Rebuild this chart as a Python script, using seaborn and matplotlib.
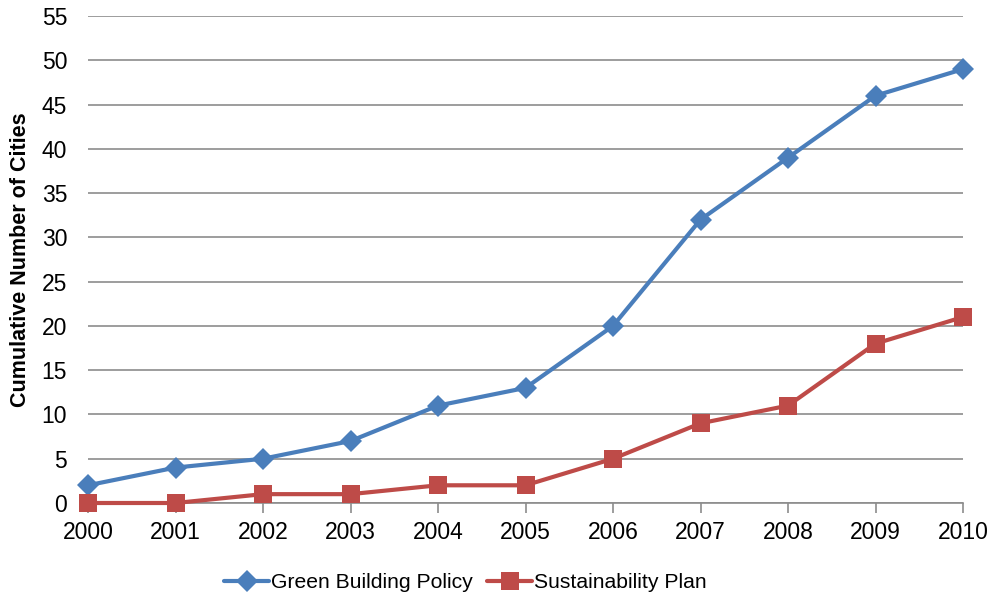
import matplotlib
matplotlib.use("Agg")
import matplotlib.pyplot as plt
import seaborn as sns
import pandas as pd

years = [2000, 2001, 2002, 2003, 2004, 2005, 2006, 2007, 2008, 2009, 2010]
green_building = [2, 4, 5, 7, 11, 13, 20, 32, 39, 46, 49]
sustainability = [0, 0, 1, 1, 2, 2, 5, 9, 11, 18, 21]
series_names = ["Green Building Policy", "Sustainability Plan"]
y_ticks = list(range(0, 56, 5))

df = pd.DataFrame({
    "Year": years * 2,
    "Cities": green_building + sustainability,
    "Series": [series_names[0]] * len(years) + [series_names[1]] * len(years),
})

sns.set_theme(style="white")
plt.rcParams["font.family"] = ["Liberation Sans", "DejaVu Sans"]
plt.rcParams["text.color"] = "black"

fig = plt.figure(figsize=(10.01, 6.01), dpi=100)
ax = fig.add_axes([88 / 1001, 1 - 503 / 601, (963 - 88) / 1001, (503 - 16) / 601])

palette = {series_names[0]: "#4A7EBB", series_names[1]: "#BE4B48"}
markers = {series_names[0]: "D", series_names[1]: "s"}
sizes = {series_names[0]: 11, series_names[1]: 13}

for name in series_names:
    sub = df[df["Series"] == name]
    sns.lineplot(data=sub, x="Year", y="Cities", ax=ax, color=palette[name],
                 marker=markers[name], markersize=sizes[name], linewidth=3,
                 markeredgewidth=0, label=name, clip_on=False, zorder=3)

ax.set_xlim(2000, 2010)
ax.set_ylim(0, 55)
ax.set_xticks(years)
ax.set_xticklabels([str(y) for y in years], fontsize=16.5, color="black")
ax.set_yticks(y_ticks)
ax.set_yticklabels([str(v) for v in y_ticks], fontsize=16.5, color="black")
ax.grid(axis="y", color="#8C8C8C", linewidth=1.2)
ax.set_axisbelow(True)
for side in ["left", "right", "top"]:
    ax.spines[side].set_visible(False)
ax.spines["bottom"].set_color("#8C8C8C")
ax.spines["bottom"].set_linewidth(1.2)
ax.tick_params(axis="x", direction="out", length=7, width=1.2, color="#8C8C8C",
               pad=6, bottom=True)
ax.tick_params(axis="y", length=0, pad=15)
ax.set_xlabel("")
ax.set_ylabel("Cumulative Number of Cities", fontsize=15.5, fontweight="bold",
              color="black", labelpad=8)

# legend below the plot area
leg = ax.legend(loc="center", bbox_to_anchor=((465.5 - 88) / 875, (503 - 583) / 487),
                ncol=2, frameon=False, fontsize=15.2, handlelength=2.1,
                handletextpad=0.1, columnspacing=0.7, borderaxespad=0)
for t in leg.get_texts():
    t.set_color("black")

fig.savefig("out.png", dpi=100)
